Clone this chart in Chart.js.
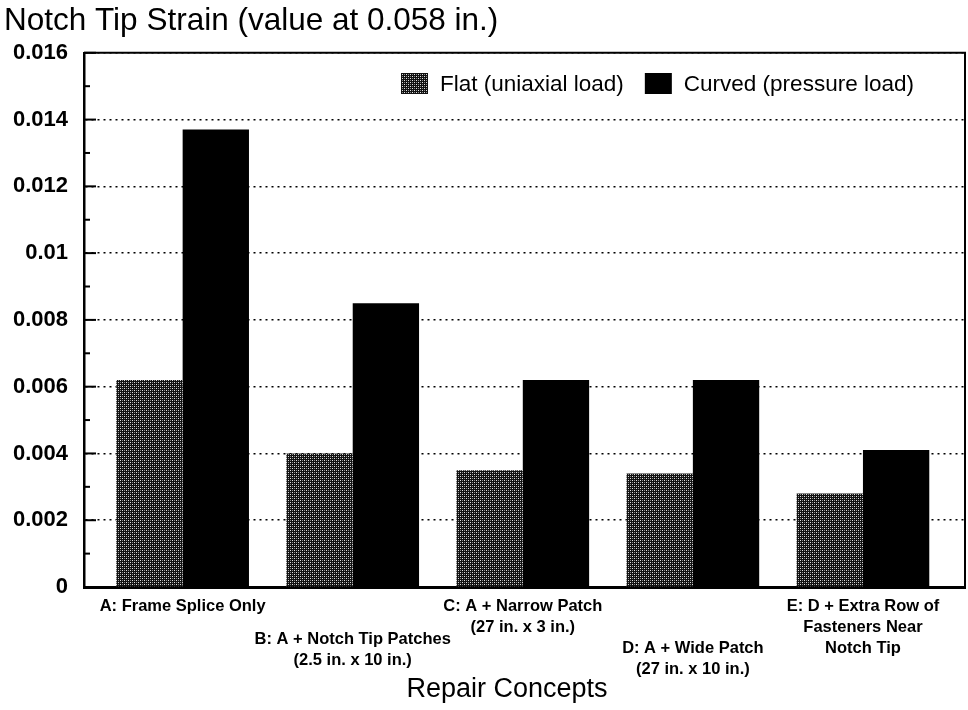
<!DOCTYPE html>
<html>
<head>
<meta charset="utf-8">
<script src="https://cdn.jsdelivr.net/npm/chart.js@4.4.1/dist/chart.umd.min.js"></script>
<style>
  html, body { margin: 0; padding: 0; background: #fff; }
  #wrap { width: 968px; height: 710px; position: relative; }
</style>
</head>
<body>
<div id="wrap"><canvas id="chart"></canvas></div>
<script>
const categories = [
  ["A: Frame Splice Only"],
  ["B: A + Notch Tip Patches", "(2.5 in. x 10 in.)"],
  ["C: A + Narrow Patch", "(27 in. x 3 in.)"],
  ["D: A + Wide Patch", "(27 in. x 10 in.)"],
  ["E: D + Extra Row of", "Fasteners Near", "Notch Tip"],
];
const flatValues = [0.0062, 0.0040, 0.0035, 0.0034, 0.0028];
const curvedValues = [0.0137, 0.0085, 0.0062, 0.0062, 0.0041];
const yTicks = [0, 0.002, 0.004, 0.006, 0.008, 0.01, 0.012, 0.014, 0.016];

const FONT = '"Liberation Sans", Arial, Helvetica, sans-serif';
Chart.defaults.font.family = FONT;
Chart.defaults.color = "#000";

// stippled fill for the flat bars
function makeStipple() {
  const c = document.createElement("canvas");
  c.width = 4;
  c.height = 4;
  const g = c.getContext("2d");
  g.fillStyle = "#111";
  g.fillRect(0, 0, 4, 4);
  g.fillStyle = "#e0e0e0";
  g.fillRect(0, 0, 1, 1);
  g.fillRect(2, 2, 1, 1);
  g.fillStyle = "#8a8a8a";
  g.fillRect(2, 0, 1, 1);
  g.fillRect(0, 2, 1, 1);
  return g.createPattern(c, "repeat");
}
const stipple = makeStipple();

// category rows start at different heights under the axis (in line units)
const labelRowStart = [0, 1.6, 0, 2, 0];

const decorations = {
  id: "decorations",
  afterDatasetsDraw(chart) {
    const { ctx, chartArea } = chart;
    const y = chart.scales.y;
    ctx.save();
    ctx.strokeStyle = "#000";
    // top and right frame
    ctx.lineWidth = 2;
    ctx.beginPath();
    ctx.moveTo(chartArea.left, chartArea.top);
    ctx.lineTo(chartArea.right, chartArea.top);
    ctx.lineTo(chartArea.right, chartArea.bottom);
    ctx.stroke();
    // short inward ticks on the value axis: long at majors, short halfway
    for (let i = 0; i < yTicks.length; i++) {
      const py = y.getPixelForValue(yTicks[i]);
      ctx.beginPath();
      ctx.moveTo(chartArea.left, py);
      ctx.lineTo(chartArea.left + 12, py);
      ctx.stroke();
      if (i < yTicks.length - 1) {
        const pm = y.getPixelForValue((yTicks[i] + yTicks[i + 1]) / 2);
        ctx.beginPath();
        ctx.moveTo(chartArea.left, pm);
        ctx.lineTo(chartArea.left + 6, pm);
        ctx.stroke();
      }
    }
    // legend inside the plot, top right
    ctx.font = "22.5px " + FONT;
    ctx.textBaseline = "middle";
    ctx.textAlign = "left";
    let lx = 401;
    chart.data.datasets.forEach((ds) => {
      ctx.fillStyle = ds.backgroundColor;
      ctx.fillRect(lx, 73, 27, 21);
      ctx.fillStyle = "#000";
      ctx.fillText(ds.label, lx + 39, 85);
      lx += 39 + ctx.measureText(ds.label).width + 21;
    });
    ctx.restore();
  },
  afterDraw(chart) {
    const { ctx } = chart;
    const x = chart.scales.x;
    ctx.save();
    ctx.fillStyle = "#000";
    ctx.textAlign = "center";
    ctx.textBaseline = "middle";
    ctx.font = "bold 16.5px " + FONT;
    categories.forEach((lines, i) => {
      const cx = x.getPixelForValue(i);
      lines.forEach((line, j) => {
        ctx.fillText(line, cx, 606 + (labelRowStart[i] + j) * 21);
      });
    });
    ctx.font = "27px " + FONT;
    ctx.fillText("Repair Concepts", 507, 690);
    ctx.restore();
  },
};

new Chart(document.getElementById("chart"), {
  type: "bar",
  data: {
    datasets: [
      {
        label: "Flat (uniaxial load)",
        data: flatValues.map((v, i) => ({ x: i, y: v })),
        backgroundColor: stipple,
        borderWidth: 0,
      },
      {
        label: "Curved (pressure load)",
        data: curvedValues.map((v, i) => ({ x: i, y: v })),
        backgroundColor: "#000",
        borderWidth: 0,
      },
    ],
  },
  options: {
    responsive: true,
    maintainAspectRatio: false,
    animation: false,
    datasets: { bar: { categoryPercentage: 0.78, barPercentage: 1 } },
    layout: { padding: { left: 4, right: 3, top: 0, bottom: 0 } },
    plugins: {
      title: {
        display: true,
        text: "Notch Tip Strain (value at 0.058 in.)",
        align: "start",
        color: "#000",
        font: { size: 31.5, weight: "normal" },
        padding: { top: 2, bottom: 13 },
      },
      legend: { display: false },
      tooltip: { enabled: false },
    },
    scales: {
      x: {
        type: "linear",
        min: -0.58,
        max: 4.6,
        offset: false,
        afterBuildTicks: (scale) => { scale.ticks = categories.map((c, i) => ({ value: i })); },
        ticks: { display: false },
        grid: { display: false },
        border: { display: true, color: "#000", width: 3 },
        afterFit: (scale) => { scale.height = 123; },
      },
      y: {
        min: 0,
        max: 0.016,
        afterBuildTicks: (scale) => { scale.ticks = yTicks.map((v) => ({ value: v })); },
        ticks: {
          padding: 16,
          color: "#000",
          font: { size: 22, weight: "bold" },
          callback: (v) => String(+v.toFixed(3)),
        },
        grid: { color: "#000", lineWidth: 1.5, drawTicks: false },
        border: { display: true, color: "#000", width: 2.5, dash: [2, 4] },
        afterFit: (scale) => { scale.width = 80; },
      },
    },
  },
  plugins: [decorations],
});
</script>
</body>
</html>
